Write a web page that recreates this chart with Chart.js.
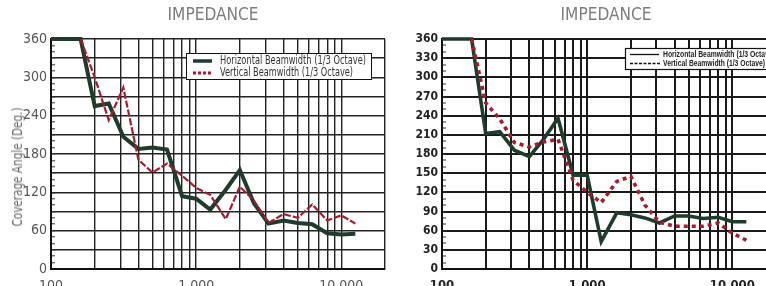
<!DOCTYPE html>
<html>
<head>
<meta charset="utf-8">
<script src="https://cdn.jsdelivr.net/npm/chart.js@4.4.1/dist/chart.umd.min.js"></script>
<style>
html, body { margin: 0; padding: 0; width: 766px; height: 286px; overflow: hidden; background: #fff; }
.box { position: absolute; top: 0; height: 300px; }
#leftBox { left: 0; width: 400px; }
#rightBox { left: 383px; width: 410px; }
.title { position: absolute; top: 3px; font-family: "Liberation Sans Narrow", "DejaVu Sans Condensed", sans-serif;
  font-size: 18px; color: #7d7d7d; transform: translateX(-50%) scaleX(0.95); white-space: nowrap; }
.ytitle { position: absolute; left: 17px; top: 167px; font-family: "Liberation Sans Narrow", "DejaVu Sans Condensed", sans-serif;
  font-size: 13.5px; color: #666; white-space: nowrap; transform: translate(-50%, -50%) rotate(-90deg) scaleX(0.86); }
</style>
</head>
<body>
<div class="box" id="leftBox"><canvas id="leftChart" width="400" height="300"></canvas></div>
<div class="box" id="rightBox"><canvas id="rightChart" width="410" height="300"></canvas></div>
<div class="title" style="left:213px">IMPEDANCE</div>
<div class="title" style="left:606px">IMPEDANCE</div>
<div class="ytitle">Coverage Angle (Deg.)</div>
<script>
// 1/3 octave centre frequencies (Hz)
const freqs = [100, 125, 160, 200, 250, 315, 400, 500, 630, 800, 1000, 1250, 1600, 2000, 2500, 3150, 4000, 5000, 6300, 8000, 10000, 12500];

// left plot
const leftHoriz = [360, 360, 360, 255, 259, 207, 188, 190, 187, 114, 110, 93, 124, 155, 103, 71, 76, 72, 70, 56, 54, 55];
const leftVert = [null, null, 360, 300, 233, 284, 171, 151, 165, 146, 127, 116, 78, 129, 107, 72, 86, 80, 101, 76, 84, 71];

// right plot
const rightHoriz = [360, 360, 360, 212, 215, 186, 176, 203, 236, 147, 147, 43, 88, 85, 80, 72, 83, 83, 79, 81, 74, 74];
const rightVert = [null, null, 360, 260, 235, 198, 191, 199, 203, 139, 120, 104, 137, 145, 100, 73, 67, 67, 67, 72, 56, 45];

const seriesNames = ["Horizontal Beamwidth (1/3 Octave)", "Vertical Beamwidth (1/3 Octave)"];

// axis ticks
const xGridTicks = [100, 200, 300, 400, 500, 600, 700, 800, 900, 1000, 2000, 3000, 4000, 5000, 6000, 7000, 8000, 9000, 10000, 20000];
const xLabelTicks = [100, 1000, 10000];
const yMin = 0, yMax = 360;

const narrow = '"Liberation Sans Narrow", "DejaVu Sans Condensed", sans-serif';
const green = '#1e3b2c';
const red = '#a31d2e';

function pts(vals) {
    return freqs.map((f, i) => ({ x: f, y: vals[i] }));
}

function makeChart(id, cfg) {
    const legendPlugin = {
        id: 'boxLegend',
        afterDraw(chart) {
            const c = chart.ctx;
            c.save();
            cfg.drawLegend(c);
            c.restore();
        }
    };
    return new Chart(document.getElementById(id), {
        type: 'line',
        data: {
            datasets: [
                { label: seriesNames[1], data: pts(cfg.vert), borderColor: red, borderWidth: cfg.redWidth,
                  borderDash: cfg.redDash, pointRadius: 0, tension: 0, clip: false },
                { label: seriesNames[0], data: pts(cfg.horiz), borderColor: green, borderWidth: cfg.greenWidth,
                  pointRadius: 0, tension: 0, clip: false }
            ]
        },
        options: {
            responsive: false,
            animation: false,
            events: [],
            layout: { padding: { left: 0, top: 39, right: cfg.rightPad, bottom: 0 } },
            plugins: { legend: { display: false }, tooltip: { enabled: false } },
            scales: {
                x: {
                    type: 'logarithmic', min: 100, max: 20000,
                    afterBuildTicks: s => { s.ticks = xGridTicks.map(v => ({ value: v })); },
                    afterFit: s => { s.height = 31; },
                    grid: { color: cfg.gridColor, lineWidth: cfg.vGridWidth, drawTicks: false },
                    border: { color: '#111', width: 2 },
                    ticks: {
                        autoSkip: false, maxRotation: 0, padding: 9,
                        color: cfg.labelColor, font: { family: narrow, size: cfg.xLabelSize, weight: cfg.labelWeight },
                        callback: v => xLabelTicks.includes(v) ? v.toLocaleString('en-US') : ''
                    }
                },
                y: {
                    min: yMin, max: yMax,
                    afterFit: s => { s.width = cfg.yWidth; },
                    grid: {
                        color: ctx => ctx.tick && ctx.tick.value % 30 === 0 ? cfg.gridColor : 'rgba(0,0,0,0)',
                        tickColor: '#333', tickLength: -4, lineWidth: cfg.hGridWidth, tickWidth: 1
                    },
                    border: { color: '#111', width: 2 },
                    ticks: {
                        stepSize: 10, autoSkip: false, padding: 8,
                        color: cfg.labelColor, font: { family: narrow, size: cfg.yLabelSize, weight: cfg.labelWeight },
                        callback: v => v % cfg.labelStep === 0 ? v : ''
                    }
                }
            }
        },
        plugins: [legendPlugin]
    });
}

makeChart('leftChart', {
    horiz: leftHoriz, vert: leftVert,
    greenWidth: 4, redWidth: 2.2, redDash: [7, 2],
    rightPad: 15, yWidth: 51, labelStep: 60,
    gridColor: '#222', vGridWidth: 1.4, hGridWidth: 1.6,
    labelColor: '#555', labelWeight: 'normal', xLabelSize: 14, yLabelSize: 14,
    drawLegend(c) {
        c.fillStyle = '#fff';
        c.fillRect(186, 53, 186, 27);
        c.strokeStyle = '#111'; c.lineWidth = 1;
        c.strokeRect(186.5, 53.5, 185, 26);
        c.lineWidth = 3.5; c.strokeStyle = green;
        c.beginPath(); c.moveTo(193, 61); c.lineTo(212, 61); c.stroke();
        c.strokeStyle = red; c.lineWidth = 3; c.setLineDash([3, 2]);
        c.beginPath(); c.moveTo(193, 73); c.lineTo(212, 73); c.stroke();
        c.setLineDash([]);
        c.fillStyle = '#333'; c.font = '12.5px ' + narrow; c.textBaseline = 'middle';
        c.fillText(seriesNames[0], 220, 61, 146);
        c.fillText(seriesNames[1], 220, 73, 133);
    }
});

makeChart('rightChart', {
    horiz: rightHoriz, vert: rightVert,
    greenWidth: 3.6, redWidth: 3.6, redDash: [4, 4],
    rightPad: 17, yWidth: 59, labelStep: 30,
    gridColor: '#1a1a1a', vGridWidth: 2, hGridWidth: 2,
    labelColor: '#222', labelWeight: 'bold', xLabelSize: 13, yLabelSize: 12,
    drawLegend(c) {
        c.fillStyle = '#fff';
        c.fillRect(242, 48, 170, 22);
        c.strokeStyle = '#111'; c.lineWidth = 1.2;
        c.strokeRect(242.5, 48.5, 170, 21);
        c.lineWidth = 1.3;
        c.beginPath(); c.moveTo(247, 54.5); c.lineTo(276, 54.5); c.stroke();
        c.setLineDash([3, 1.5]);
        c.beginPath(); c.moveTo(247, 63.5); c.lineTo(277, 63.5); c.stroke();
        c.setLineDash([]);
        c.fillStyle = '#222'; c.font = '600 9px "Liberation Sans", Arial, sans-serif'; c.textBaseline = 'middle';
        c.fillText(seriesNames[0], 280, 54.5, 112);
        c.fillText(seriesNames[1], 280, 63.5, 102);
    }
});
</script>
</body>
</html>
